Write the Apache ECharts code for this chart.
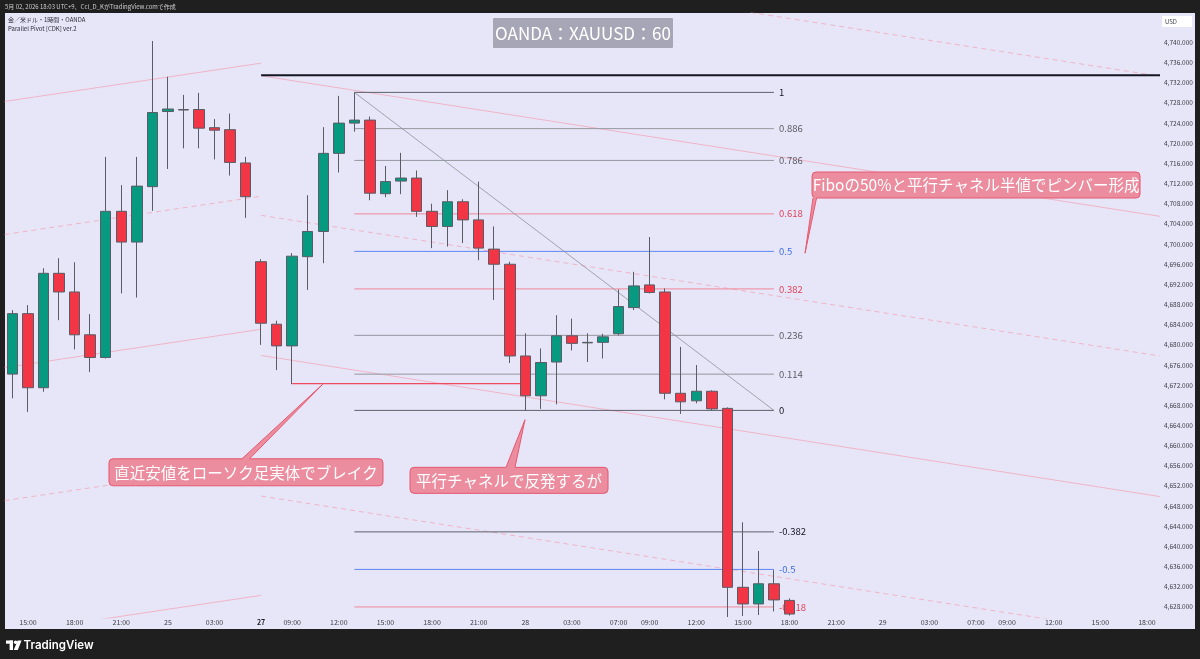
<!DOCTYPE html>
<html><head><meta charset="utf-8">
<script src="https://cdn.jsdelivr.net/npm/echarts@6/dist/echarts.min.js"></script>
<style>
html,body{margin:0;padding:0;background:#1f1f1f;width:1200px;height:659px;overflow:hidden}
#bg{position:absolute;left:5px;top:13px;width:1190px;height:616px;background:#e7e5f8}
#c{position:absolute;left:0;top:0;width:1200px;height:659px}
</style></head><body><div id="bg"></div><div id="c"></div>
<script>
// ---------------- DATA ----------------
// hourly bars (JST), index 0 = 04-24 14:00
const barTimes = ['04-24 14:00','15:00','16:00','17:00','18:00','19:00','20:00','21:00','22:00','23:00',
 '04-25 00:00','01:00','02:00','03:00','04:00','05:00',
 '04-27 07:00','08:00','09:00','10:00','11:00','12:00','13:00','14:00','15:00','16:00','17:00','18:00','19:00','20:00','21:00','22:00','23:00',
 '04-28 00:00','01:00','02:00','03:00','04:00','05:00','07:00','08:00','09:00','10:00','11:00','12:00','13:00','14:00','15:00','16:00','17:00','18:00'];
// [open, close, low, high]
const ohlc = [
 [4674.2,4686.2,4669.4,4686.9],[4686.2,4671.5,4666.7,4687.9],[4671.5,4694.2,4670.7,4695.2],[4694.2,4690.5,4684.9,4697.2],
 [4690.5,4682.0,4679.1,4696.4],[4682.0,4677.5,4674.6,4686.1],[4677.5,4706.5,4677.3,4717.3],[4706.5,4700.4,4690.2,4711.7],
 [4700.4,4711.5,4689.4,4717.3],[4711.4,4726.1,4706.6,4740.3],[4726.3,4726.8,4714.9,4733.2],[4726.7,4726.6,4719.0,4729.6],
 [4726.7,4723.0,4719.0,4730.0],[4723.1,4722.6,4716.8,4724.8],[4722.7,4716.2,4713.6,4725.9],[4716.1,4709.4,4705.2,4717.3],
 [4696.5,4684.3,4680.0,4697.0],[4684.1,4679.8,4675.0,4684.8],[4679.8,4697.6,4672.2,4698.2],[4697.5,4702.5,4690.9,4709.7],
 [4702.5,4718.0,4696.2,4723.2],[4718.0,4724.0,4714.2,4729.4],[4724.0,4724.6,4722.3,4730.1],[4724.6,4710.1,4708.7,4725.3],
 [4710.0,4712.4,4709.3,4715.5],[4712.5,4713.1,4709.9,4718.1],[4713.1,4706.5,4705.4,4714.6],[4706.5,4703.5,4699.2,4708.0],
 [4703.5,4708.4,4699.5,4710.7],[4708.4,4704.8,4700.2,4708.9],[4704.8,4699.2,4696.8,4712.4],[4699.0,4696.0,4688.9,4703.5],
 [4696.0,4677.8,4676.4,4696.5],[4677.8,4669.9,4667.0,4682.3],[4669.9,4676.5,4667.3,4679.3],[4676.6,4681.8,4668.2,4685.9],
 [4681.8,4680.3,4678.9,4685.2],[4680.4,4680.5,4676.6,4682.3],[4680.5,4681.6,4677.3,4682.2],[4682.2,4687.6,4681.9,4691.0],
 [4687.4,4691.7,4686.9,4694.5],[4691.9,4690.4,4690.2,4701.4],[4690.5,4670.4,4669.2,4691.2],[4670.4,4668.7,4666.3,4679.6],
 [4668.9,4670.8,4668.4,4676.0],[4670.8,4667.3,4667.0,4671.0],[4667.4,4631.9,4626.0,4667.6],[4631.9,4628.6,4626.2,4644.8],
 [4628.6,4632.6,4626.4,4639.1],[4632.6,4629.4,4627.1,4635.3],[4629.3,4626.6,4626.3,4629.7]
];
// time-scale labels (bar index -> text)
const xTickIndex = [1,4,7,10,13,16,18,21,24,27,30,33,36,39,41,44,47,50,53,56,59,62,64,67,70,73];
const xTickText  = ['15:00','18:00','21:00','25','03:00','27','09:00','12:00','15:00','18:00','21:00','28','03:00','07:00','09:00','12:00','15:00','18:00','21:00','29','03:00','07:00','09:00','12:00','15:00','18:00'];
// price-scale labels
const yTicks = [4628,4632,4636,4640,4644,4648,4652,4656,4660,4664,4668,4672,4676,4680,4684,4688,4692,4696,4700,4704,4708,4712,4716,4720,4724,4728,4732,4736,4740];
// Fibonacci retracement
const fibHigh = 4730.1, fibLow = 4667.0, fibFrom = 22, fibTo = 49;
const fibRatios = [1, 0.886, 0.786, 0.618, 0.5, 0.382, 0.236, 0.114, 0, -0.382, -0.5, -0.618];
const fibText = ['1','0.886','0.786','0.618','0.5','0.382','0.236','0.114','0','-0.382','-0.5','-0.618'];
// parallel pivot channel (rising leg)
const risingFrom = -0.5, risingTo = 16;
const risingFromPrice = [4728.3, 4701.9, 4675.5, 4649.1, 4622.7];
const risingToPrice   = [4735.9, 4709.5, 4683.1, 4656.7, 4630.3];
// parallel pivot channel (falling leg)
const fallingFrom = 16, fallingTo = 73.84;
const fallingFromPrice = [4761.1, 4733.4, 4705.7, 4677.9, 4650.0];
const fallingToPrice   = [4733.3, 4705.5, 4677.8, 4649.9, 4622.1];
// horizontal lines
const resistLine = {from:16, to:73.84, price:4733.5};
const recentLow  = {from:18, to:33, price:4672.3};

// ---------------- STYLE ----------------
const FONT = '"Noto Sans CJK JP","Noto Sans",sans-serif';
const UP = '#089981', DOWN = '#f23645', WICK = '#595c65';
const CH = '#efb5c6';
const fibLineColor = {'1':'#5d606b','0.886':'#9598a1','0.786':'#9598a1','0.618':'#f08a98','0.5':'#5f88f2','0.382':'#f08a98','0.236':'#9598a1','0.114':'#9598a1','0':'#5d606b','-0.382':'#5d606b','-0.5':'#5f88f2','-0.618':'#f08a98'};
const fibLabelColor = {'1':'#131722','0.886':'#5a5d66','0.786':'#5a5d66','0.618':'#e0455a','0.5':'#3a6ee8','0.382':'#e0455a','0.236':'#5a5d66','0.114':'#5a5d66','0':'#131722','-0.382':'#131722','-0.5':'#3a6ee8','-0.618':'#e0455a'};

const chart = echarts.init(document.getElementById('c'), null, {renderer:'canvas'});

function seg(pts, color, width, type, z, extra) {
  return Object.assign({type:'line', data:pts, symbol:'none', showSymbol:false, silent:true, animation:false, z:z,
    lineStyle:{color:color, width:width, type:type}, emphasis:{disabled:true}}, extra || {});
}

const series = [];
// channel lines
for (let k = 0; k < risingFromPrice.length; k++) {
  series.push(seg([[risingFrom, risingFromPrice[k]], [risingTo, risingToPrice[k]]], CH, 1, k % 2 ? [5,4] : 'solid', 1));
}
for (let k = 0; k < fallingFromPrice.length; k++) {
  series.push(seg([[fallingFrom, fallingFromPrice[k]], [fallingTo, fallingToPrice[k]]], CH, 1, k % 2 ? 'solid' : [5,4], 1));
}
// resistance line
series.push(seg([[resistLine.from, resistLine.price], [resistLine.to, resistLine.price]], '#131722', 2, 'solid', 2));
// fib levels
fibRatios.forEach((r, k) => {
  const p = fibLow + r * (fibHigh - fibLow);
  const t = fibText[k];
  series.push(seg([[fibFrom, p], [fibTo, p]], fibLineColor[t], 1, 'solid', 2, {
    endLabel:{show:true, formatter:t, color:fibLabelColor[t], fontSize:9.5, fontFamily:FONT, distance:5}
  }));
});
// fib trend line
series.push(seg([[fibFrom, fibHigh], [fibTo, fibLow]], '#8f919a', 0.8, 'solid', 2));
// recent low line
series.push(seg([[recentLow.from, recentLow.price], [recentLow.to, recentLow.price]], '#ef4b5e', 1.3, 'solid', 3));
// candles
series.push({
  type:'candlestick', layout:'horizontal', z:5, silent:true, animation:false, barWidth:11,
  encode:{x:0, y:[1,2,3,4]},
  data: ohlc.map((d, i) => [i, d[0], d[1], d[2], d[3]]),
  itemStyle:{color:UP, color0:DOWN, borderColor:WICK, borderColor0:WICK, borderWidth:1}
});

const option = {
  animation:false,
  backgroundColor:'transparent',
  grid:{left:4.7, right:40, top:13.3, bottom:41, containLabel:false, show:false},
  xAxis:{type:'value', min:-0.5, max:73.84, splitLine:{show:false}, axisLine:{show:false}, axisTick:{show:false},
    axisLabel:{customValues:xTickIndex, margin:1, fontSize:7, color:'#3b3d45', fontFamily:FONT,
      formatter:function(v){
        const r = Math.round(v);
        if (Math.abs(v - r) > 1e-6) return '';
        const k = xTickIndex.indexOf(r);
        if (k < 0) return '';
        const t = xTickText[k];
        return t === '27' ? '{b|27}' : t;
      },
      rich:{b:{fontWeight:'bold', fontSize:7, color:'#1c1e24', fontFamily:FONT}}
    }},
  yAxis:{type:'value', position:'right', min:4625.81, max:4745.79, splitLine:{show:false}, axisLine:{show:false}, axisTick:{show:false},
    axisLabel:{customValues:yTicks, margin:4, fontSize:6.5, color:'#3b3d45', fontFamily:FONT,
      formatter:function(v){
        const r = Math.round(v);
        if (Math.abs(v - r) > 1e-6 || yTicks.indexOf(r) < 0) return '';
        const s = String(r);
        return s[0] + ',' + s.slice(1) + '.000';
      }}},
  series:series
};
chart.setOption(option);

// ---------------- ANNOTATIONS ----------------
const callouts = [
  {text:'Fiboの50%と平行チャネル半値でピンバー形成', box:[51.45, 4714.3], tip:[51.0, 4698.2], w:328, h:26, side:'bottom', base:[1,4.5]},
  {text:'直近安値をローソク足実体でブレイク', box:[6.21, 4657.4], tip:[20.0, 4672.3], w:274, h:27, side:'top', base:[133,140.5]},
  {text:'平行チャネルで反発するが', box:[25.58, 4655.7], tip:[32.98, 4665.15], w:198, h:26, side:'top', base:[96,105]}
];
const CF = '#ec8d9f', CS = '#e4586e';
const g = [];
callouts.forEach(c => {
  const b = chart.convertToPixel({gridIndex:0}, c.box);
  const t = chart.convertToPixel({gridIndex:0}, c.tip);
  const bx = b[0], by = b[1];
  const ey = c.side === 'bottom' ? by + c.h : by;
  const inY = c.side === 'bottom' ? ey - 1.2 : ey + 1.2;
  const b0 = bx + c.base[0], b1 = bx + c.base[1];
  g.push({type:'rect', z:100, shape:{x:bx, y:by, width:c.w, height:c.h, r:4}, style:{fill:CF, stroke:CS, lineWidth:1}});
  g.push({type:'polygon', z:101, shape:{points:[[b0, inY],[b0, ey],[t[0], t[1]],[b1, ey],[b1, inY]]}, style:{fill:CF}});
  g.push({type:'polyline', z:102, shape:{points:[[b0, ey],[t[0], t[1]],[b1, ey]]}, style:{stroke:CS, lineWidth:1, fill:null}});
  g.push({type:'text', z:103, x:bx + c.w/2, y:by + c.h/2 + 0.5, style:{text:c.text, fill:'#ffffff', fontSize:15.5, fontFamily:FONT, align:'center', verticalAlign:'middle'}});
});
// symbol title box
g.push({type:'rect', z:100, shape:{x:493, y:18, width:180, height:30, r:1}, style:{fill:'#a7a6b6'}});
g.push({type:'text', z:101, x:583, y:33.5, style:{text:'OANDA：XAUUSD：60', fill:'#ffffff', fontSize:17, fontFamily:FONT, align:'center', verticalAlign:'middle'}});
// header texts
g.push({type:'text', z:100, x:5, y:7, style:{text:'5月 02, 2026 18:03 UTC+9、Ccl_D_KがTradingView.comで作成', fill:'#cfcfcf', fontSize:6, fontFamily:FONT, verticalAlign:'middle'}});
g.push({type:'text', z:100, x:8, y:20, style:{text:'金／米ドル・1時間・OANDA', fill:'#2a2e39', fontSize:6, fontFamily:FONT, verticalAlign:'middle'}});
g.push({type:'text', z:100, x:8, y:28.5, style:{text:'Parallel Pivot [CDK] ver.2', fill:'#2a2e39', fontSize:6, fontFamily:FONT, verticalAlign:'middle'}});
// USD box
g.push({type:'rect', z:100, shape:{x:1162, y:16, width:30, height:11}, style:{fill:'#ffffff'}});
g.push({type:'text', z:101, x:1165, y:21.5, style:{text:'USD', fill:'#3b3d45', fontSize:6, fontFamily:FONT, verticalAlign:'middle'}});
// TradingView logo
g.push({type:'rect', z:100, shape:{x:6, y:640.5, width:7, height:3.2}, style:{fill:'#ffffff'}});
g.push({type:'rect', z:100, shape:{x:9.6, y:640.5, width:3.4, height:9.5}, style:{fill:'#ffffff'}});
g.push({type:'circle', z:100, shape:{cx:15.6, cy:642.3, r:1.8}, style:{fill:'#ffffff'}});
g.push({type:'polygon', z:100, shape:{points:[[17.6,640.5],[21.6,640.5],[17.8,650],[13.8,650]]}, style:{fill:'#ffffff'}});
g.push({type:'text', z:100, x:23.5, y:645.5, style:{text:'TradingView', fill:'#ffffff', fontSize:11.5, fontWeight:600, fontFamily:'Inter, "Noto Sans", sans-serif', verticalAlign:'middle'}});

chart.setOption({graphic:{elements:g}});
</script>
</body></html>
